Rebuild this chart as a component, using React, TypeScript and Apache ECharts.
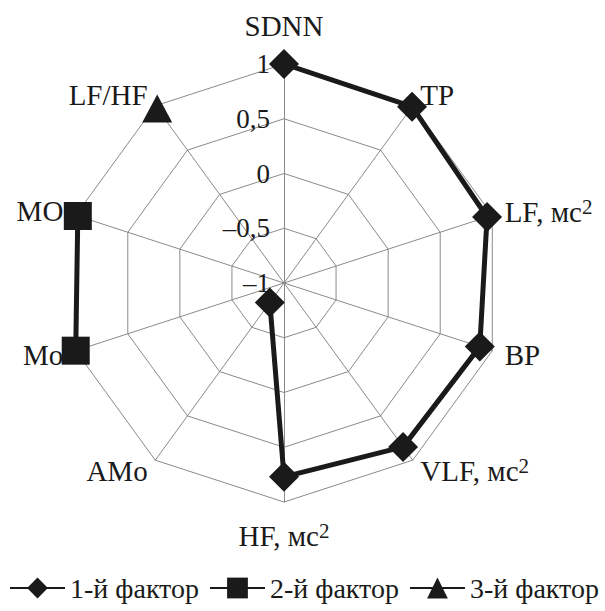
import React, { useEffect, useRef } from 'react';
import * as echarts from 'echarts';

// Indicators, clockwise from the top
const indicators = ['SDNN', 'TP', 'LF, мс²', 'BP', 'VLF, мс²', 'HF, мс²', 'AMo', 'Mo', 'MO', 'LF/HF'];
const factor1 = [1, 0.99, 0.95, 0.88, 0.85, 0.77, -0.78, null, null, null];
const factor2 = [null, null, null, null, null, null, null, 1.0, 0.98, null];
const factor3 = [null, null, null, null, null, null, null, null, null, 0.97];
const seriesNames = ['1-й фактор', '2-й фактор', '3-й фактор'];
const tickValues = [-1, -0.5, 0, 0.5, 1];
const tickLabels = ['–1', '–0,5', '0', '0,5', '1'];

const FONT = "'Liberation Serif', 'Times New Roman', serif";
const INK = '#1a1a1a';
const GRID = '#8a8a8a';

export default function App() {
  const ref = useRef<HTMLDivElement>(null);
  useEffect(() => {
    document.body.style.margin = '0';
    if (!ref.current) return;
    const chart = echarts.init(ref.current, undefined, { renderer: 'svg' });
    const center = [284, 283];
    const radius = 219;
    // radar lays indicators counter-clockwise: reorder so the picture is clockwise
    const radarOrder = [indicators[0], ...indicators.slice(1).reverse()];
    const option: any = {
      animation: false,
      backgroundColor: '#ffffff',
      textStyle: { fontFamily: FONT, color: INK },
      radar: {
        center,
        radius,
        startAngle: 90,
        shape: 'polygon',
        splitNumber: 4,
        nameGap: 13,
        axisName: {
          color: INK,
          fontFamily: FONT,
          fontSize: 29,
          formatter: (name: string) =>
            name.includes('²') ? `{b|${name.replace('²', '')}}{s|2}` : `{b|${name}}`,
          rich: {
            b: { fontFamily: FONT, fontSize: 29, color: INK, verticalAlign: 'bottom' },
            s: {
              fontFamily: FONT,
              fontSize: 21,
              color: INK,
              verticalAlign: 'bottom',
              padding: [0, 0, 9, 0],
            },
          },
        },
        indicator: radarOrder.map((n, i) => ({
          name: n,
          min: -1,
          max: 1,
          ...(n === 'SDNN' ? { nameGap: 24 } : {}),
          ...(n === 'HF, мс²' ? { nameGap: 18 } : {}),
          ...(i === 0
            ? {
                axisLabel: {
                  show: true,
                  margin: 14,
                  fontFamily: FONT,
                  fontSize: 27,
                  color: INK,
                  formatter: (v: number) => {
                    const k = tickValues.findIndex((t) => Math.abs(t - v) < 1e-9);
                    return k >= 0 ? tickLabels[k] : '';
                  },
                },
              }
            : {}),
        })),
        axisLabel: { show: false },
        axisTick: { show: false },
        axisLine: { show: true, lineStyle: { color: GRID, width: 1 } },
        splitLine: { show: true, lineStyle: { color: GRID, width: 1 } },
        splitArea: { show: false },
      },
      polar: { center, radius },
      angleAxis: {
        type: 'category',
        data: indicators,
        boundaryGap: false,
        startAngle: 90,
        clockwise: true,
        show: false,
        axisLine: { show: false },
        splitLine: { show: false },
        axisLabel: { show: false },
        axisTick: { show: false },
      },
      radiusAxis: {
        type: 'value',
        min: -1,
        max: 1,
        interval: 0.5,
        show: false,
        axisLine: { show: false },
        splitLine: { show: false },
        axisLabel: { show: false },
        axisTick: { show: false },
      },
      legend: {
        left: 9,
        top: 574,
        padding: 0,
        width: 596,
        itemWidth: 55,
        itemHeight: 26,
        itemGap: 10,
        textStyle: { fontFamily: FONT, fontSize: 28, color: INK },
        data: seriesNames,
      },
      series: [
        {
          name: seriesNames[0],
          type: 'line',
          coordinateSystem: 'polar',
          data: factor1,
          symbol: 'diamond',
          symbolSize: 30,
          showAllSymbol: true,
          connectNulls: false,
          lineStyle: { color: INK, width: 5 },
          itemStyle: { color: INK },
        },
        {
          name: seriesNames[1],
          type: 'line',
          coordinateSystem: 'polar',
          data: factor2,
          symbol: 'rect',
          symbolSize: 28,
          showAllSymbol: true,
          connectNulls: false,
          lineStyle: { color: INK, width: 5 },
          itemStyle: { color: INK },
        },
        {
          name: seriesNames[2],
          type: 'line',
          coordinateSystem: 'polar',
          data: factor3,
          symbol: 'triangle',
          symbolSize: [30, 28],
          showAllSymbol: true,
          connectNulls: false,
          lineStyle: { color: INK, width: 5 },
          itemStyle: { color: INK },
        },
      ],
    };
    chart.setOption(option);
    return () => chart.dispose();
  }, []);
  return <div ref={ref} style={{ width: 605, height: 611 }} />;
}
